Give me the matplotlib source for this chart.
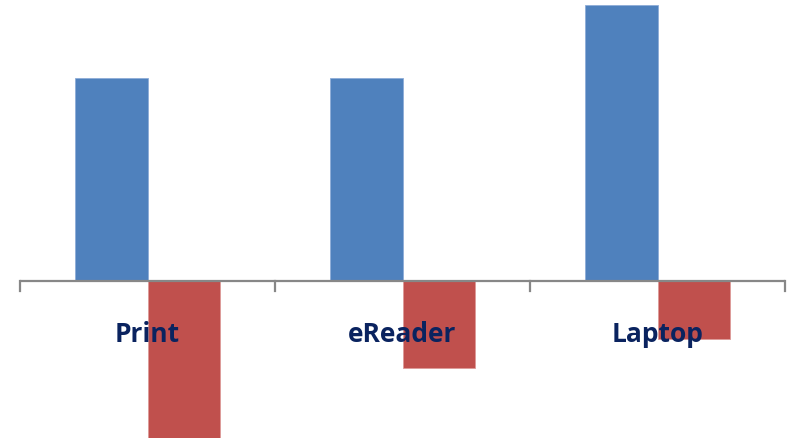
import numpy as np
import matplotlib.pyplot as plt

categories = ['Print', 'eReader', 'Laptop']
series_a = [7.0, 7.0, 9.5]
series_b = [-6.0, -3.0, -2.0]

blue = '#4F81BD'
red = '#C0504D'

fig = plt.figure(figsize=(7.94, 4.39), dpi=100)
ax = fig.add_axes([20 / 794, 0, 765 / 794, 1])

x = np.arange(len(categories))
w = 0.286
ax.bar(x - w / 2, series_a, width=w, color=blue, edgecolor='#8EACD8', linewidth=0.6)
ax.bar(x + w / 2, series_b, width=w, color=red, edgecolor='#DD9A98', linewidth=0.6)

ax.set_xlim(-0.5, len(categories) - 0.5)
ax.set_ylim(-157.5 / 29, 281.5 / 29)

for s in ['top', 'right', 'left', 'bottom']:
    ax.spines[s].set_visible(False)
ax.axhline(0, color='#878787', linewidth=1.6, zorder=3)

# boundary ticks drawn as short lines under the zero line
ax.set_yticks([])
ax.set_xticks([])
for b in np.arange(-0.5, len(categories), 1.0):
    ax.plot([b, b], [0, -10 / 29], color='#878787', linewidth=1.6, clip_on=False, zorder=3)

for xi, lab in zip(x, categories):
    ax.text(xi, -53 / 29, lab, ha='center', va='center', fontsize=19,
            fontweight='bold', color='#0A235F', family=['Open Sans', 'DejaVu Sans'], zorder=4)

fig.savefig('out.png', dpi=100)
